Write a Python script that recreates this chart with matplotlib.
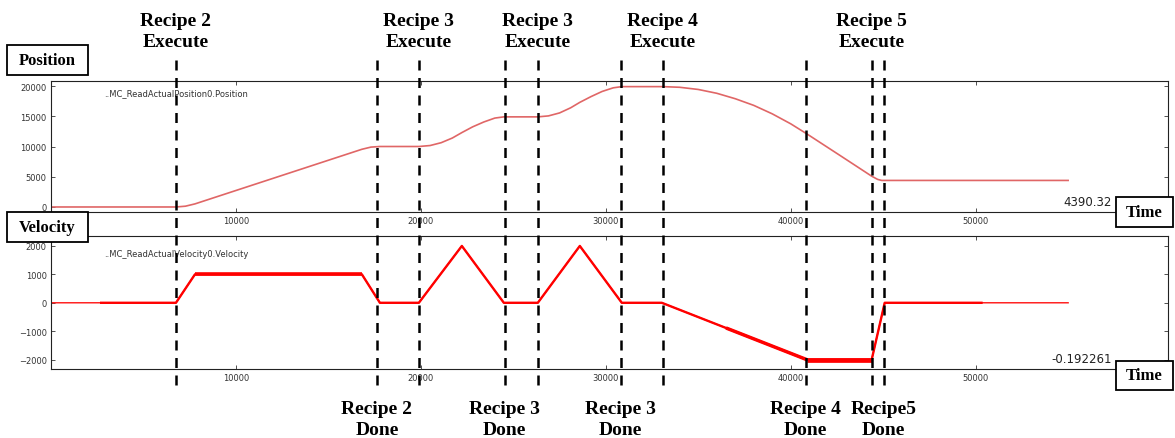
import numpy as np
import matplotlib
matplotlib.use("Agg")
import matplotlib.pyplot as plt
import matplotlib.transforms as mtransforms
from matplotlib.lines import Line2D
from matplotlib.patches import Rectangle

# position trace (time in ms)
pos_t = [0, 6757, 7270, 7784, 16811, 17300, 17784, 19892, 20500, 21100, 21700, 22216,
         22800, 23400, 24000, 24486, 26324, 26900, 27500, 28100, 28595, 29200, 29800,
         30400, 30865, 33081, 34000, 35000, 36000, 37000, 38000, 39000, 40000, 40865,
         42649, 44378, 44700, 44919, 55000]
pos_v = [0, 0, 130, 510, 9540, 9900, 10000, 10000, 10160, 10630, 11400, 12300,
         13250, 14050, 14700, 14900, 14900, 15060, 15550, 16400, 17300, 18250, 19100,
         19700, 19900, 19900, 19790, 19430, 18800, 17900, 16800, 15400, 13750, 12100,
         8550, 5090, 4560, 4390, 4390]

# velocity trace
vel_t = [0, 6757, 7784, 16811, 17784, 19892, 22216, 24486, 26324, 28595, 30865,
         33027, 40865, 44378, 45081, 55000]
vel_v = [0, 0, 1000, 1000, 0, 0, 2000, 0, 0, 2000, 0, 0, -2000, -2000, 0, 0]

# stretches where the recorded velocity is noisy (start, end, thickness)
noisy_spans = [(2649, 50378, 1.7), (7784, 16811, 2.6), (36500, 40865, 2.5),
               (40865, 44378, 3.4)]

execute_t = [6757, 19892, 26324, 33081, 44378]
execute_lbl = ["Recipe 2\nExecute", "Recipe 3\nExecute", "Recipe 3\nExecute",
               "Recipe 4\nExecute", "Recipe 5\nExecute"]
done_t = [17622, 24540, 30811, 40811, 45027]
done_lbl = ["Recipe 2\nDone", "Recipe 3\nDone", "Recipe 3\nDone",
            "Recipe 4\nDone", "Recipe5\nDone"]

x_ticks = [10000, 20000, 30000, 40000, 50000]
pos_ticks = [0, 5000, 10000, 15000, 20000]
vel_ticks = [-2000, -1000, 0, 1000, 2000]

W, H = 1175, 439
serif = "Liberation Serif"


def fx(px):
    return px / W


def fy(py):
    return 1 - py / H


def style_axis(ax, yticks):
    ax.set_xlim(0, 60400)
    ax.set_xticks(x_ticks)
    ax.set_yticks(yticks)
    ax.tick_params(direction="in", top=True, right=True, length=3, width=0.6,
                   labelsize=6, pad=3, colors="#333333")
    for s in ax.spines.values():
        s.set_linewidth(0.8)
        s.set_color("#222222")


def label_box(x0, y0, x1, y1, text):
    # boxed label, corners given in pixels of the picture
    fig.add_artist(Rectangle((fx(x0), fy(y1)), fx(x1 - x0), (y1 - y0) / H,
                             transform=fig.transFigure, fc="white", ec="black",
                             lw=1.3, zorder=5))
    fig.text(fx((x0 + x1) / 2), fy((y0 + y1) / 2), text, ha="center", va="center",
             family=serif, weight="bold", fontsize=12, zorder=6)


fig = plt.figure(figsize=(W / 100, H / 100), dpi=100)
ax1 = fig.add_axes([fx(51), fy(213), fx(1117), 131 / H])
ax2 = fig.add_axes([fx(51), fy(370), fx(1117), 133 / H])

ax1.plot(pos_t, pos_v, color="#e06666", lw=1.2)
ax1.set_ylim(-830, 20830)
style_axis(ax1, pos_ticks)
ax1.text(0.048, 0.91, "..MC_ReadActualPosition0.Position", transform=ax1.transAxes,
         fontsize=6, color="#333333", va="center")

ax2.plot(vel_t, vel_v, color="#ff1010", lw=1.0)
vt = np.array(vel_t, dtype=float)
vv = np.array(vel_v, dtype=float)
for a, b, w in noisy_spans:
    inside = (vt > a) & (vt < b)
    st = np.concatenate([[a], vt[inside], [b]])
    sv = np.concatenate([[np.interp(a, vt, vv)], vv[inside], [np.interp(b, vt, vv)]])
    ax2.plot(st, sv, color="#ff0000", lw=w, solid_capstyle="butt")
ax2.set_ylim(-2330, 2350)
style_axis(ax2, vel_ticks)
ax2.text(0.048, 0.87, "..MC_ReadActualVelocity0.Velocity", transform=ax2.transAxes,
         fontsize=6, color="#333333", va="center")

# dashed event markers spanning both panels
trans = mtransforms.blended_transform_factory(ax1.transData, fig.transFigure)
for t in execute_t + done_t:
    fig.add_artist(Line2D([t, t], [fy(61), fy(388)], transform=trans, color="black",
                          lw=1.8, linestyle=(0, (4, 3))))

for t, lbl in zip(execute_t, execute_lbl):
    fig.text(t, fy(32), lbl, transform=trans, ha="center", va="center",
             family=serif, weight="bold", fontsize=14, linespacing=1.25)
for t, lbl in zip(done_t, done_lbl):
    fig.text(t, fy(420), lbl, transform=trans, ha="center", va="center",
             family=serif, weight="bold", fontsize=14, linespacing=1.25)

label_box(7, 46, 88, 76, "Position")
label_box(7, 213, 88, 243, "Velocity")
label_box(1116, 198, 1173, 228, "Time")
label_box(1116, 362, 1173, 391, "Time")

fig.text(fx(1112), fy(203), "4390.32", ha="right", va="center", fontsize=8.5,
         color="#222222")
fig.text(fx(1112), fy(360), "-0.192261", ha="right", va="center", fontsize=8.5,
         color="#222222")

fig.savefig("out.png", dpi=100, facecolor="white")
